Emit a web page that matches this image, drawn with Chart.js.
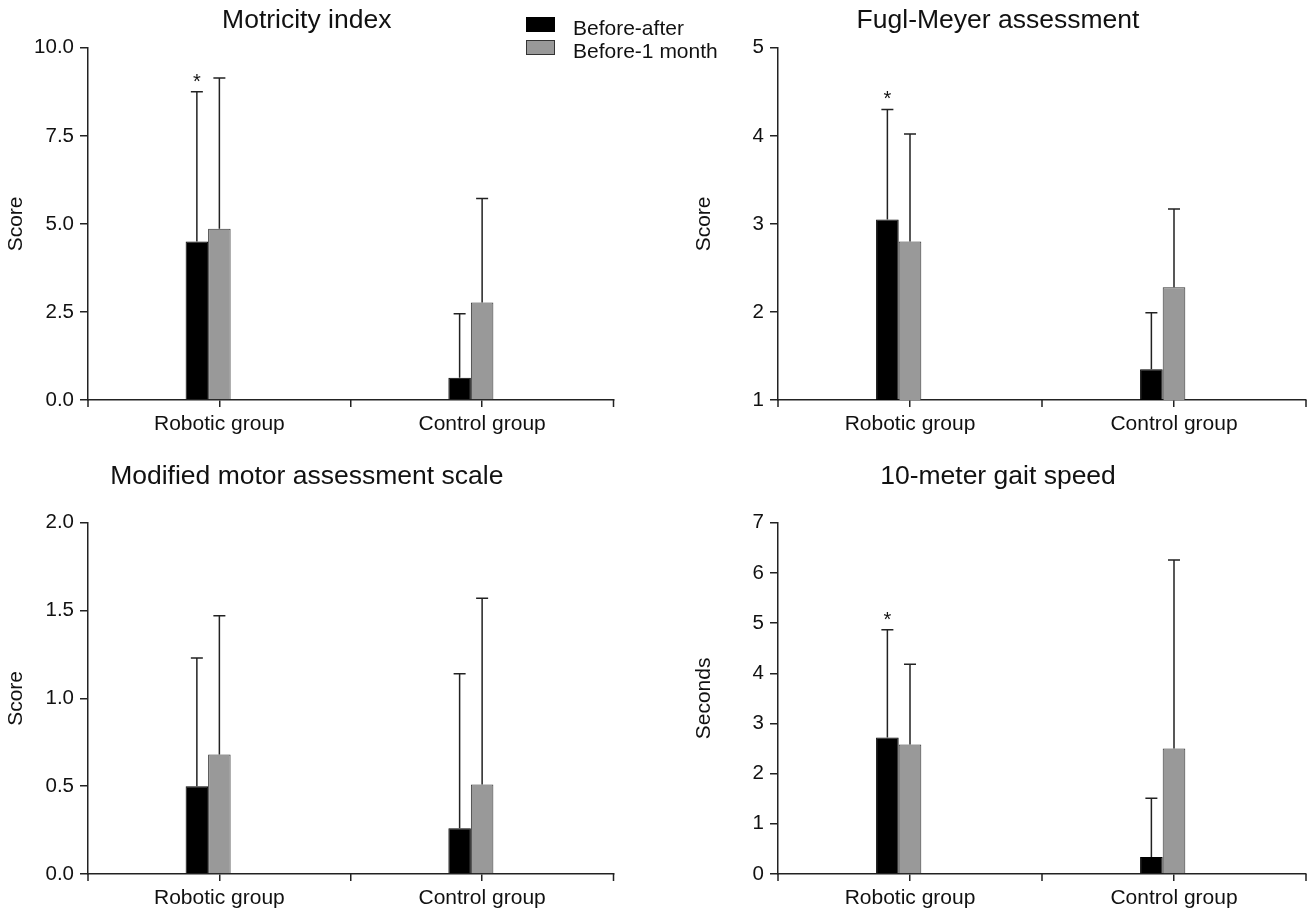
<!DOCTYPE html>
<html>
<head>
<meta charset="utf-8">
<title>Change scores by group</title>
<script src="https://cdn.jsdelivr.net/npm/chart.js@4.4.1/dist/chart.umd.min.js"></script>
<style>
html, body { margin: 0; padding: 0; background: #fff; width: 1309px; height: 911px; overflow: hidden; }
canvas { position: absolute; }
.legend { position: absolute; font-family: "Liberation Sans", Arial, sans-serif; font-size: 21px; color: #111; line-height: 1; }
.legend .box { position: absolute; width: 29px; height: 15px; box-sizing: border-box; }
.legend .txt { position: absolute; white-space: nowrap; }
</style>
</head>
<body>
<canvas id="motricity" width="622" height="450" style="left:0;top:0"></canvas>
<canvas id="fuglMeyer" width="624" height="450" style="left:690px;top:0"></canvas>
<canvas id="mmas" width="622" height="461" style="left:0;top:450px"></canvas>
<canvas id="gait" width="624" height="461" style="left:690px;top:450px"></canvas>

<div class="legend">
    <div class="box" style="left:526px;top:17px;background:#000;border:1px solid #000"></div>
    <div class="txt" style="left:573px;top:17px">Before-after</div>
    <div class="box" style="left:526px;top:40px;background:#999;border:1px solid #333"></div>
    <div class="txt" style="left:573px;top:40px">Before-1 month</div>
</div>

<script>
// Data
const groups = ['Robotic group', 'Control group'];
const seriesNames = ['Before-after', 'Before-1 month'];

const motricityAfter = [4.50, 0.63];
const motricityAfterSd = [4.25, 1.82];
const motricityMonth = [4.86, 2.77];
const motricityMonthSd = [4.28, 2.95];
const motricitySig = ['*', ''];

const fmaAfter = [3.05, 1.35];
const fmaAfterSd = [1.25, 0.64];
const fmaMonth = [2.80, 2.28];
const fmaMonthSd = [1.22, 0.89];
const fmaSig = ['*', ''];

const mmasAfter = [0.50, 0.26];
const mmasAfterSd = [0.73, 0.88];
const mmasMonth = [0.68, 0.51];
const mmasMonthSd = [0.79, 1.06];
const mmasSig = ['', ''];

const gaitAfter = [2.72, 0.34];
const gaitAfterSd = [2.15, 1.17];
const gaitMonth = [2.58, 2.50];
const gaitMonthSd = [1.60, 3.76];
const gaitSig = ['*', ''];

Chart.defaults.font.family = '"Liberation Sans", Arial, sans-serif';
Chart.defaults.color = '#111';

const ink = '#222';

// Draws SD whiskers, significance stars and the extra axis ticks
const errorBars = {
    id: 'errorBars',
    afterDatasetsDraw(chart) {
        const { ctx, chartArea } = chart;
        const yScale = chart.scales.y;
        const xScale = chart.scales.x;
        ctx.save();
        ctx.strokeStyle = ink;
        ctx.fillStyle = '#111';
        ctx.lineWidth = 1.5;
        ctx.font = '20px "Liberation Sans", Arial, sans-serif';
        ctx.textAlign = 'center';
        ctx.textBaseline = 'alphabetic';
        chart.data.datasets.forEach((ds, di) => {
            if (!ds.sd) return;
            chart.getDatasetMeta(di).data.forEach((bar, i) => {
                const top = yScale.getPixelForValue(ds.data[i] + ds.sd[i]);
                ctx.beginPath();
                ctx.moveTo(bar.x, bar.y);
                ctx.lineTo(bar.x, top);
                ctx.moveTo(bar.x - 6, top);
                ctx.lineTo(bar.x + 6, top);
                ctx.stroke();
                if (ds.sig && ds.sig[i]) {
                    ctx.fillText(ds.sig[i], bar.x, top - 4);
                }
            });
        });
        // category boundary ticks below the x axis
        const mid = (xScale.getPixelForTick(0) + xScale.getPixelForTick(1)) / 2;
        ctx.beginPath();
        [chartArea.left, mid, chartArea.right].forEach(px => {
            ctx.moveTo(px, chartArea.bottom);
            ctx.lineTo(px, chartArea.bottom + 7);
        });
        ctx.stroke();
        ctx.restore();
    }
};

function makePanel(id, cfg) {
    const titlePad = cfg.bottomRow ? { top: 11, bottom: 30 } : { top: 5, bottom: 11 };
    new Chart(document.getElementById(id), {
        type: 'bar',
        data: {
            labels: groups,
            datasets: [
                { label: seriesNames[0], data: cfg.after, sd: cfg.afterSd, sig: cfg.sig,
                  backgroundColor: '#000', borderColor: '#000', borderWidth: 1 },
                { label: seriesNames[1], data: cfg.month, sd: cfg.monthSd,
                  backgroundColor: '#999', borderColor: '#333', borderWidth: 1 },
                // empty slot so the pair sits left of the tick, as in the figure
                { label: '', data: [null, null], backgroundColor: 'rgba(0,0,0,0)' }
            ]
        },
        options: {
            responsive: false,
            animation: false,
            layout: { padding: { left: 0, right: cfg.padRight, top: 0, bottom: 0 } },
            datasets: { bar: { categoryPercentage: 0.257, barPercentage: 1 } },
            plugins: {
                legend: { display: false },
                tooltip: { enabled: false },
                title: {
                    display: true,
                    text: cfg.title,
                    color: '#111',
                    font: { size: 26.5, weight: 'normal' },
                    padding: titlePad
                }
            },
            scales: {
                x: {
                    grid: { offset: false, drawOnChartArea: false, drawTicks: true, tickLength: 7, color: ink, lineWidth: 1.5 },
                    border: { display: true, color: ink, width: 1.5 },
                    ticks: { font: { size: 21 }, color: '#111', padding: 5, maxRotation: 0, autoSkip: false },
                    afterFit: s => { s.height = cfg.bottomRow ? 37 : 50; }
                },
                y: {
                    min: cfg.min,
                    max: cfg.max,
                    grid: { drawOnChartArea: false, drawTicks: true, tickLength: 8, color: ink, lineWidth: 1.5 },
                    border: { display: true, color: ink, width: 1.5 },
                    ticks: {
                        stepSize: cfg.step,
                        font: { size: 20.5 },
                        color: '#111',
                        padding: 6,
                        callback: v => v.toFixed(cfg.decimals)
                    },
                    title: { display: true, text: cfg.yTitle, color: '#111', font: { size: 21 }, padding: { top: cfg.yTitlePad, bottom: 0 } },
                    afterFit: s => { s.width = 88; }
                }
            }
        },
        plugins: [errorBars]
    });
}

makePanel('motricity', {
    title: 'Motricity index', yTitle: 'Score', min: 0, max: 10, step: 2.5, decimals: 1,
    after: motricityAfter, afterSd: motricityAfterSd, month: motricityMonth, monthSd: motricityMonthSd,
    sig: motricitySig, padRight: 8.5, yTitlePad: 4, bottomRow: false
});

makePanel('fuglMeyer', {
    title: 'Fugl-Meyer assessment', yTitle: 'Score', min: 1, max: 5, step: 1, decimals: 0,
    after: fmaAfter, afterSd: fmaAfterSd, month: fmaMonth, monthSd: fmaMonthSd,
    sig: fmaSig, padRight: 8, yTitlePad: 2, bottomRow: false
});

makePanel('mmas', {
    title: 'Modified motor assessment scale', yTitle: 'Score', min: 0, max: 2, step: 0.5, decimals: 1,
    after: mmasAfter, afterSd: mmasAfterSd, month: mmasMonth, monthSd: mmasMonthSd,
    sig: mmasSig, padRight: 8.5, yTitlePad: 4, bottomRow: true
});

makePanel('gait', {
    title: '10-meter gait speed', yTitle: 'Seconds', min: 0, max: 7, step: 1, decimals: 0,
    after: gaitAfter, afterSd: gaitAfterSd, month: gaitMonth, monthSd: gaitMonthSd,
    sig: gaitSig, padRight: 8, yTitlePad: 2, bottomRow: true
});
</script>
</body>
</html>
